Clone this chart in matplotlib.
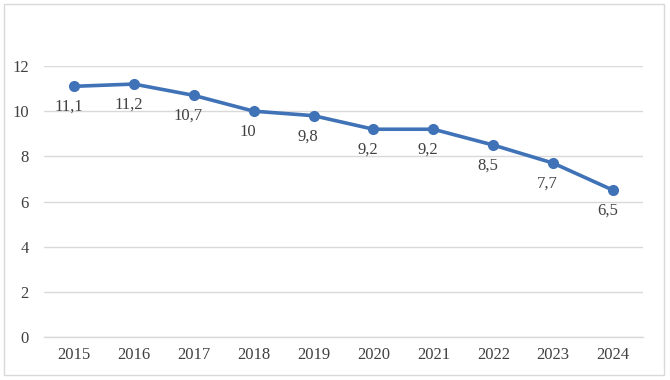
import matplotlib.pyplot as plt
from matplotlib.patches import Rectangle

# data
years = ["2015", "2016", "2017", "2018", "2019", "2020", "2021", "2022", "2023", "2024"]
values = [11.1, 11.2, 10.7, 10.0, 9.8, 9.2, 9.2, 8.5, 7.7, 6.5]
labels = ["11,1", "11,2", "10,7", "10", "9,8", "9,2", "9,2", "8,5", "7,7", "6,5"]
yticks = [0, 2, 4, 6, 8, 10, 12]

plt.rcParams['font.family'] = ['Liberation Serif', 'DejaVu Serif']

fig = plt.figure(figsize=(6.7, 3.8), dpi=100)
ax = fig.add_axes([44 / 670, 43 / 380, 599 / 670, 271 / 380])

x = list(range(len(years)))
color = "#3F72B6"
ax.plot(x, values, color=color, lw=2.6, marker="o", ms=7, zorder=3)

for xi, v, lab in zip(x, values, labels):
    ax.annotate(lab, (xi, v), xytext=(-4, -9), textcoords="offset points",
                ha="center", va="top", fontsize=12, color="#404040")

ax.set_xlim(-0.5, len(years) - 0.5)
ax.set_ylim(0, 12)
ax.set_yticks(yticks)
ax.set_xticks(x)
ax.set_xticklabels(years)
ax.grid(axis="y", color="#D9D9D9", lw=1)
ax.axhline(0, color="#D9D9D9", lw=1, clip_on=False, zorder=0)
ax.set_axisbelow(True)
for s in ax.spines.values():
    s.set_visible(False)
ax.tick_params(length=0, labelsize=12, labelcolor="#404040")
ax.tick_params(axis="y", pad=11)
ax.tick_params(axis="x", pad=7)

# chart border
fig.patches.append(Rectangle((4 / 670, 5 / 380), 660 / 670, 371 / 380, transform=fig.transFigure,
                             fill=False, edgecolor="#D9D9D9", lw=1))

fig.savefig("out.png", dpi=100)
